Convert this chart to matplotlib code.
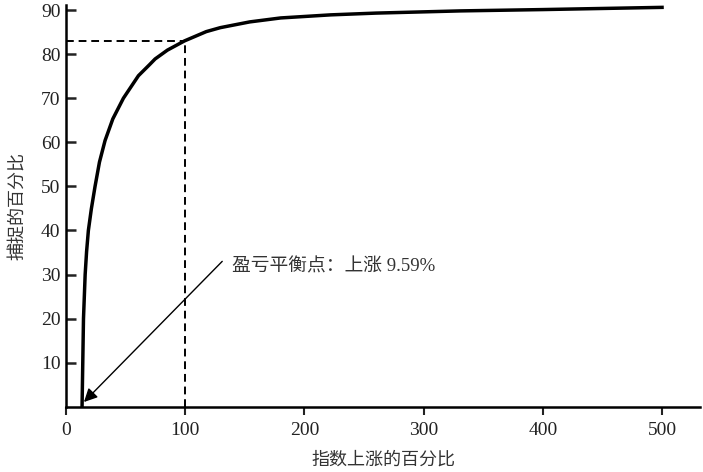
import matplotlib
matplotlib.use("Agg")
import matplotlib.pyplot as plt

plt.rcParams["font.family"] = ["Liberation Serif", "Noto Sans CJK SC"]

# 曲线点（指数上涨% → 捕捉%）
index_rise = [13.4, 14, 14.6, 16, 17.2, 18.7, 21.2, 24.3, 28, 32.7, 39.2, 48.1,
              60.7, 70, 74.7, 85, 99.4, 117.6, 129.4, 154, 180, 222, 260, 331,
              400, 450, 500]
captured = [0, 10, 20, 30, 35.2, 40, 44.9, 50, 55.5, 60.4, 65.3, 70,
            75.1, 77.6, 78.9, 80.9, 83, 85.1, 86.0, 87.3, 88.2, 88.9, 89.3, 89.8,
            90.1, 90.35, 90.6]

ref_x = 100
ref_y = 83
breakeven = 9.59

x_ticks = [0, 100, 200, 300, 400, 500]
y_ticks = [10, 20, 30, 40, 50, 60, 70, 80, 90]

fig = plt.figure(figsize=(7.03, 4.72), dpi=100)
ax = fig.add_axes([0.094, 0.138, 0.902, 0.852])

ax.plot(index_rise, captured, color="black", lw=2.5, solid_joinstyle="round")

# 参考虚线
ax.plot([0, ref_x], [ref_y, ref_y], color="black", lw=1.4, ls=(0, (4, 2.5)))
ax.plot([ref_x, ref_x], [0, ref_y], color="black", lw=1.4, ls=(0, (4, 2.5)))

# 盈亏平衡点标注
ax.annotate(
    "", xy=(15, 1.1), xytext=(131, 33),
    arrowprops=dict(arrowstyle="-|>", color="black", lw=1.0,
                    mutation_scale=20, shrinkA=0, shrinkB=0),
)
ax.text(139.5, 31.8, "盈亏平衡点：上涨 %.2f%%" % breakeven,
        fontsize=13.5, color="#333333", va="center", ha="left")

ax.set_xlim(0, 532)
ax.set_ylim(0, 91.2)
ax.set_xticks(x_ticks)
ax.set_yticks(y_ticks)

for s in ["top", "right"]:
    ax.spines[s].set_visible(False)
for s in ["left", "bottom"]:
    ax.spines[s].set_linewidth(1.8)

ax.tick_params(axis="y", direction="in", length=7, width=1.8, pad=4,
               labelsize=14, colors="#222222")
ax.tick_params(axis="x", direction="out", length=6, width=1.5, pad=5,
               labelsize=14, colors="#222222")

ax.set_xlabel("指数上涨的百分比", fontsize=13, color="#333333",
              family=["Noto Sans CJK SC"], labelpad=8)
ax.set_ylabel("捕捉的百分比", fontsize=13, color="#333333",
              family=["Noto Sans CJK SC"], labelpad=10)

fig.savefig("out.png", dpi=100)
